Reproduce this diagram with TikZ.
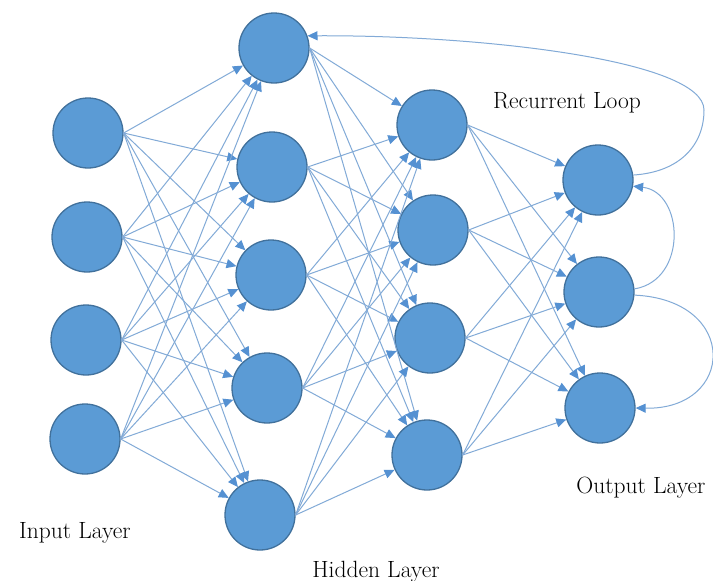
\documentclass[tikz,border=0pt]{standalone}
\usetikzlibrary{arrows.meta}
\definecolor{nodefill}{RGB}{91,155,213}
\definecolor{nodeline}{RGB}{65,113,156}
\definecolor{edgecol}{RGB}{130,170,215}
\definecolor{tipcol}{RGB}{85,145,210}
\tikzset{
  neuron/.style={circle, fill=nodefill, draw=nodeline, line width=1.3pt, minimum size=70pt, inner sep=0pt},
  conn/.style={draw=edgecol, line width=1pt, -{Triangle[length=10pt,width=9pt,color=tipcol]}},
  lbl/.style={font=\fontsize{23.5}{28}\selectfont, anchor=base, inner sep=0pt, text=black}
}
\begin{document}
\begin{tikzpicture}[x=1pt,y=-1pt]
\useasboundingbox (0,0) rectangle (713,581);
\fill[white] (0,0) rectangle (713,581);
% input layer
\node[neuron] (i1) at (88,133) {};
\node[neuron] (i2) at (87,237) {};
\node[neuron] (i3) at (86,340) {};
\node[neuron] (i4) at (85,439) {};
% hidden layer 1
\node[neuron] (a1) at (274,48) {};
\node[neuron] (a2) at (272,167) {};
\node[neuron] (a3) at (271,275) {};
\node[neuron] (a4) at (267,388) {};
\node[neuron] (a5) at (260,515) {};
% hidden layer 2
\node[neuron] (b1) at (432,125) {};
\node[neuron] (b2) at (433,230) {};
\node[neuron] (b3) at (430,338) {};
\node[neuron] (b4) at (427,455) {};
% output layer
\node[neuron] (o1) at (598,180) {};
\node[neuron] (o2) at (599,292) {};
\node[neuron] (o3) at (600,408) {};
% connections
\foreach \s in {i1,i2,i3,i4}
  \foreach \t in {a1,a2,a3,a4,a5}
    \draw[conn] (\s.east) -- (\t);
\foreach \s in {a1,a2,a3,a4,a5}
  \foreach \t in {b1,b2,b3,b4}
    \draw[conn] (\s.east) -- (\t);
\foreach \s in {b1,b2,b3,b4}
  \foreach \t in {o1,o2,o3}
    \draw[conn] (\s.east) -- (\t);
% recurrent connections
\coordinate (rl) at (704,110);
\draw[conn] (o1.8) .. controls (680,172) and (704,145) .. (rl)
  .. controls (704,60) and (480,35) .. (a1.20);
\draw[conn] (o2.5) .. controls (688,280) and (684,192) .. (o1.-10);
\draw[conn] (o2.-5) .. controls (740,300) and (735,410) .. (o3.east);
% labels
\node[lbl] (tin) at (75,538) {Input Layer};
\node[lbl] (thid) at (376,577) {Hidden Layer};
\node[lbl] (trec) at (567,108) {Recurrent Loop};
\node[lbl] (tout) at (641,493) {Output Layer};
\end{tikzpicture}
\end{document}
